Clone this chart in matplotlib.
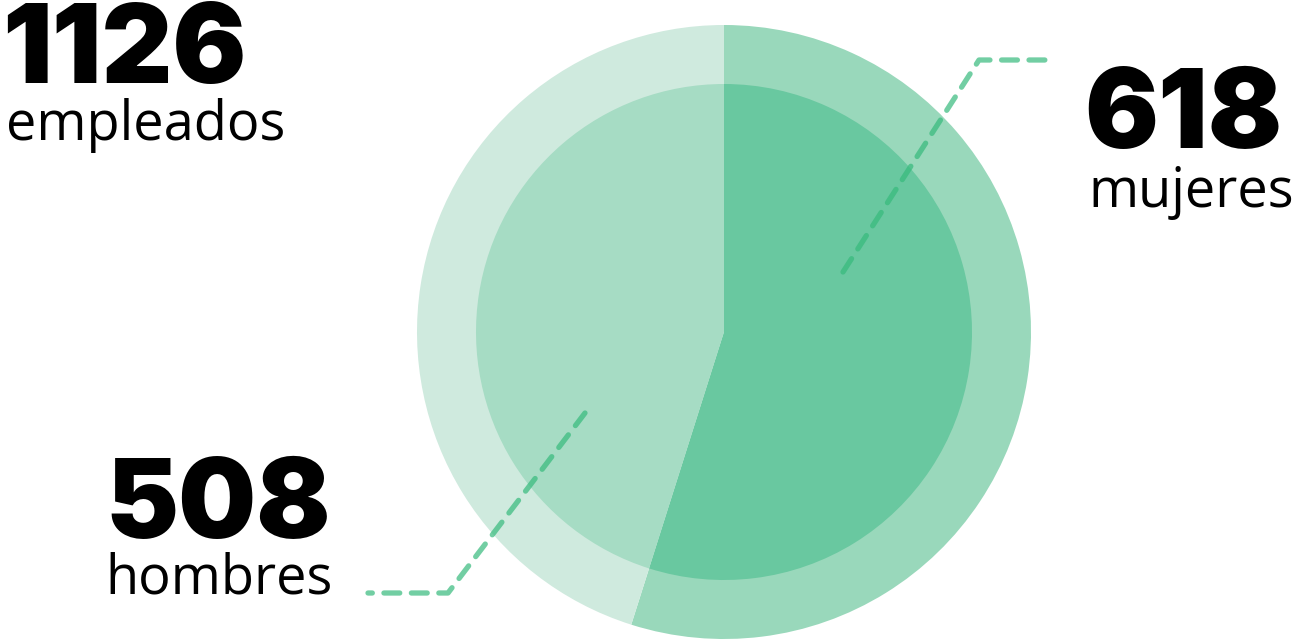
import matplotlib.pyplot as plt
from matplotlib import font_manager as fm

# data
labels = ["mujeres", "hombres"]
counts = [618, 508]
total = sum(counts)

outer_colors = ["#99d8bb", "#cfeade"]
inner_colors = ["#69c8a0", "#a6dcc4"]
line_color = "#36ba7c"

# pick the heaviest installed weight among a few families
heavy_family, heavy_weight = "DejaVu Sans", 700
for fam in ["Inter", "Roboto", "Lato", "Noto Sans", "Open Sans"]:
    ws = [f.weight for f in fm.fontManager.ttflist if f.name == fam]
    ws = [w if isinstance(w, int) else 400 for w in ws]
    if ws and max(ws) > heavy_weight:
        heavy_family, heavy_weight = fam, max(ws)

W, H = 1293, 639
fig = plt.figure(figsize=(W / 100, H / 100), dpi=100)
ax = fig.add_axes([0, 0, 1, 1])

center = (724, H - 332)

# outer ring and inner pie
ax.pie(counts, radius=307, center=center, startangle=90, counterclock=False,
       colors=outer_colors, wedgeprops=dict(linewidth=0), frame=True)
ax.pie(counts, radius=248, center=center, startangle=90, counterclock=False,
       colors=inner_colors, wedgeprops=dict(linewidth=0), frame=True)
ax.set_xlim(0, W)
ax.set_ylim(0, H)
ax.set_aspect("equal")
ax.axis("off")

# leader lines
def leader(xs, ys):
    ax.plot(xs, [H - y for y in ys], color=line_color, alpha=0.7, lw=3.8,
            dashes=(3.0, 2.2), dash_capstyle="round", solid_joinstyle="round")

leader([843, 979, 1052], [272, 60, 60])
leader([585, 448, 368], [413, 593, 593])

big = dict(family=[heavy_family, "DejaVu Sans"], fontweight=heavy_weight,
           fontsize=79, color="black", va="baseline")
small = dict(family=["Open Sans", "DejaVu Sans"], fontweight="normal",
             fontsize=39, color="black", va="baseline")

ax.text(2, H - 83, str(total), **big)
ax.text(6, H - 140, "empleados", **small)

ax.text(1084, H - 148, str(counts[0]), **big)
ax.text(1088, H - 207, labels[0], **small)

ax.text(105, H - 538, str(counts[1]), **big)
ax.text(105, H - 593, labels[1], **small)

fig.savefig("out.png", dpi=100)
